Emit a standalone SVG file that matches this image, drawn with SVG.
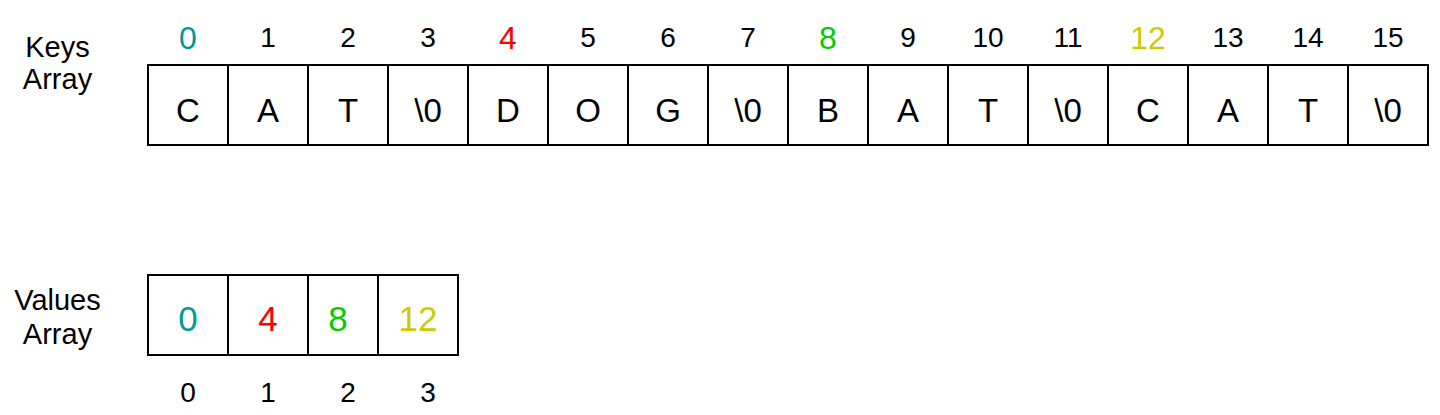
<svg xmlns="http://www.w3.org/2000/svg" width="1440" height="415" viewBox="0 0 1440 415">
<style>
text{font-family:"Liberation Sans",Arial,Helvetica,sans-serif;text-anchor:middle;fill:#000}
.cell{fill:#fff;stroke:#000;stroke-width:2}
.lbl{font-size:29px}
.idx{font-size:28px}
.cidx{font-size:32px}
.ch{font-size:33px}
.val{font-size:35px}
.teal{fill:#009999}.red{fill:#ff0000}.green{fill:#00cc00}.yellow{fill:#cccc00}
</style>
<rect width="1440" height="415" fill="#fff"/>
<g id="keys-label">
<text class="lbl" x="57.5" y="57">Keys</text>
<text class="lbl" x="57.5" y="88.5">Array</text>
</g>
<g id="values-label">
<text class="lbl" x="57.5" y="310">Values</text>
<text class="lbl" x="57.5" y="344">Array</text>
</g>
<g id="keys-indices">
<text class="cidx teal" x="188" y="49">0</text>
<text class="idx" x="268" y="47">1</text>
<text class="idx" x="348" y="47">2</text>
<text class="idx" x="428" y="47">3</text>
<text class="cidx red" x="508" y="49">4</text>
<text class="idx" x="588" y="47">5</text>
<text class="idx" x="668" y="47">6</text>
<text class="idx" x="748" y="47">7</text>
<text class="cidx green" x="828" y="49">8</text>
<text class="idx" x="908" y="47">9</text>
<text class="idx" x="988" y="47">10</text>
<text class="idx" x="1068" y="47">11</text>
<text class="cidx yellow" x="1148" y="49">12</text>
<text class="idx" x="1228" y="47">13</text>
<text class="idx" x="1308" y="47">14</text>
<text class="idx" x="1388" y="47">15</text>
</g>
<g id="keys-array">
<rect class="cell" x="148" y="65" width="80" height="80"/>
<rect class="cell" x="228" y="65" width="80" height="80"/>
<rect class="cell" x="308" y="65" width="80" height="80"/>
<rect class="cell" x="388" y="65" width="80" height="80"/>
<rect class="cell" x="468" y="65" width="80" height="80"/>
<rect class="cell" x="548" y="65" width="80" height="80"/>
<rect class="cell" x="628" y="65" width="80" height="80"/>
<rect class="cell" x="708" y="65" width="80" height="80"/>
<rect class="cell" x="788" y="65" width="80" height="80"/>
<rect class="cell" x="868" y="65" width="80" height="80"/>
<rect class="cell" x="948" y="65" width="80" height="80"/>
<rect class="cell" x="1028" y="65" width="80" height="80"/>
<rect class="cell" x="1108" y="65" width="80" height="80"/>
<rect class="cell" x="1188" y="65" width="80" height="80"/>
<rect class="cell" x="1268" y="65" width="80" height="80"/>
<rect class="cell" x="1348" y="65" width="80" height="80"/>
<text class="ch" x="188" y="122">C</text>
<text class="ch" x="268" y="122">A</text>
<text class="ch" x="348" y="122">T</text>
<text class="ch" x="428" y="122">\0</text>
<text class="ch" x="508" y="122">D</text>
<text class="ch" x="588" y="122">O</text>
<text class="ch" x="668" y="122">G</text>
<text class="ch" x="748" y="122">\0</text>
<text class="ch" x="828" y="122">B</text>
<text class="ch" x="908" y="122">A</text>
<text class="ch" x="988" y="122">T</text>
<text class="ch" x="1068" y="122">\0</text>
<text class="ch" x="1148" y="122">C</text>
<text class="ch" x="1228" y="122">A</text>
<text class="ch" x="1308" y="122">T</text>
<text class="ch" x="1388" y="122">\0</text>
</g>
<g id="values-array">
<rect class="cell" x="148" y="275" width="80" height="80"/>
<rect class="cell" x="228" y="275" width="80" height="80"/>
<rect class="cell" x="308" y="275" width="70" height="80"/>
<rect class="cell" x="378" y="275" width="80" height="80"/>
<text class="val teal" x="188" y="331">0</text>
<text class="val red" x="268" y="331">4</text>
<text class="val green" x="338" y="331">8</text>
<text class="val yellow" x="418" y="331">12</text>
</g>
<g id="values-indices">
<text class="idx" x="188" y="402">0</text>
<text class="idx" x="268" y="402">1</text>
<text class="idx" x="348" y="402">2</text>
<text class="idx" x="428" y="402">3</text>
</g>
<g id="connectors"></g>
</svg>
